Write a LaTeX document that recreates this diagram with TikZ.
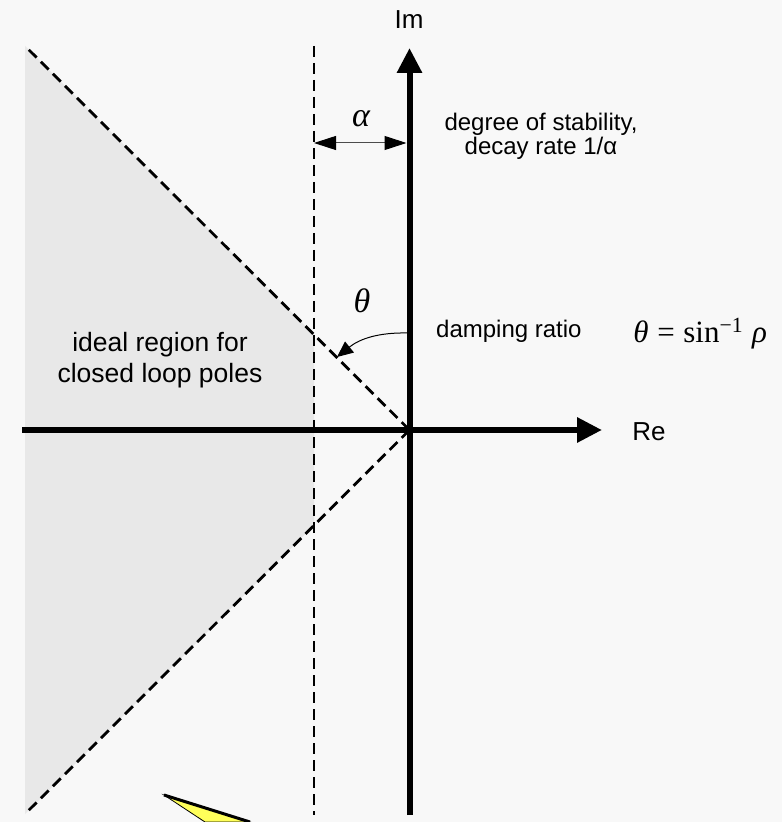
\documentclass[tikz,border=0pt]{standalone}
\usepackage{fontspec}
\setmainfont{Liberation Sans}
\newfontfamily\serifmath{Liberation Serif}
\usepackage{xcolor}
\usepackage{tikz}
\usetikzlibrary{positioning, arrows.meta}
\definecolor{bgcol}{HTML}{F8F8F8}
\definecolor{regioncol}{HTML}{E8E8E8}
\definecolor{pointercol}{HTML}{FFFF5A}

\begin{document}
\begin{tikzpicture}[
    x=0.5pt, y=0.5pt,
    font={\fontsize{13}{15.5}\selectfont},
    axis/.style={line width=3pt, -{Triangle[length=12.5pt, width=12pt]}},
    guide/.style={line width=1.4pt, dash pattern=on 5.5pt off 3pt},
    lbl/.style={inner sep=0pt, anchor=base},
    note/.style={inner sep=0pt, align=center, font={\fontsize{12}{10.5}\selectfont}},
    greek/.style={inner sep=0pt, anchor=base, font={\serifmath\itshape\fontsize{17}{19}\selectfont}},
    dimarrow/.style={line width=0.5pt, draw=black!70,
        {Triangle[length=11pt, width=7pt, black]}-{Triangle[length=11pt, width=7pt, black]}},
    anglearrow/.style={line width=0.5pt, -{Triangle[length=8pt, width=7pt]}},
]

% --- background ---
\fill[bgcol] (0,0) rectangle (782,-822);
\useasboundingbox (0,0) rectangle (782,-822);

% --- ideal region ---
\coordinate (O) at (409.5,-430);
\coordinate (tl) at (25,-46);
\coordinate (bl) at (25,-814);
\coordinate (cu) at (314,-334.5);
\coordinate (cl) at (314,-525.5);
\coordinate (dtop) at (314,-46);
\coordinate (dbot) at (314,-815);
\fill[regioncol] (tl) -- (cu) -- (cl) -- (bl) -- cycle;
\node[align=center, inner sep=0pt, font={\fontsize{13.25}{15.5}\selectfont}] (ideal) at (160,-360)
    {ideal region for\\closed loop poles};

% --- dashed guides ---
\draw[guide] (O) -- (tl);
\draw[guide] (O) -- (bl);
\draw[guide] (dtop) -- (dbot);

% --- axes ---
\coordinate (reL) at (22,-430);
\coordinate (reR) at (602,-430);
\coordinate (imB) at (409.5,-815);
\coordinate (imT) at (409.5,-48);
\draw[axis] (reL) -- (reR);
\draw[axis] (imB) -- (imT);
\node[lbl] (im) at (409,-29) {Im};
\node[lbl] (re) at (649,-440) {Re};

% --- decay rate ---
\coordinate (aL) at (314,-143);
\coordinate (aR) at (406.5,-143);
\draw[dimarrow] (aL) -- (aR);
\node[greek] (alpha) at (361,-127) {α};
\node[note] (decay) at (541,-136) {degree of stability,\\decay rate 1/α};

% --- damping ---
\coordinate (thS) at (408,-333);
\coordinate (thT) at (337,-357);
\draw[anglearrow] (thS) to[bend right=20] (thT);
\node[greek] (theta) at (362,-313) {θ};
\node[lbl, anchor=base east, font={\fontsize{12}{14}\selectfont}] (damp) at (582,-338) {damping ratio};
\node[lbl, anchor=base west, font={\serifmath\fontsize{15.5}{18}\selectfont}] (formula) at (633,-343)
    {{\itshape θ}\;=\;sin\textsuperscript{−1}\;{\itshape ρ}};

% --- pointer stub ---
\coordinate (pA) at (164,-795);
\coordinate (pB) at (250,-822);
\coordinate (pC) at (205,-822);
\filldraw[fill=pointercol, draw=black, line width=0.4pt] (pA) -- (pB) -- (pC) -- cycle;
\draw[line width=1.5pt] (pA) -- (pB);

\end{tikzpicture}
\end{document}
